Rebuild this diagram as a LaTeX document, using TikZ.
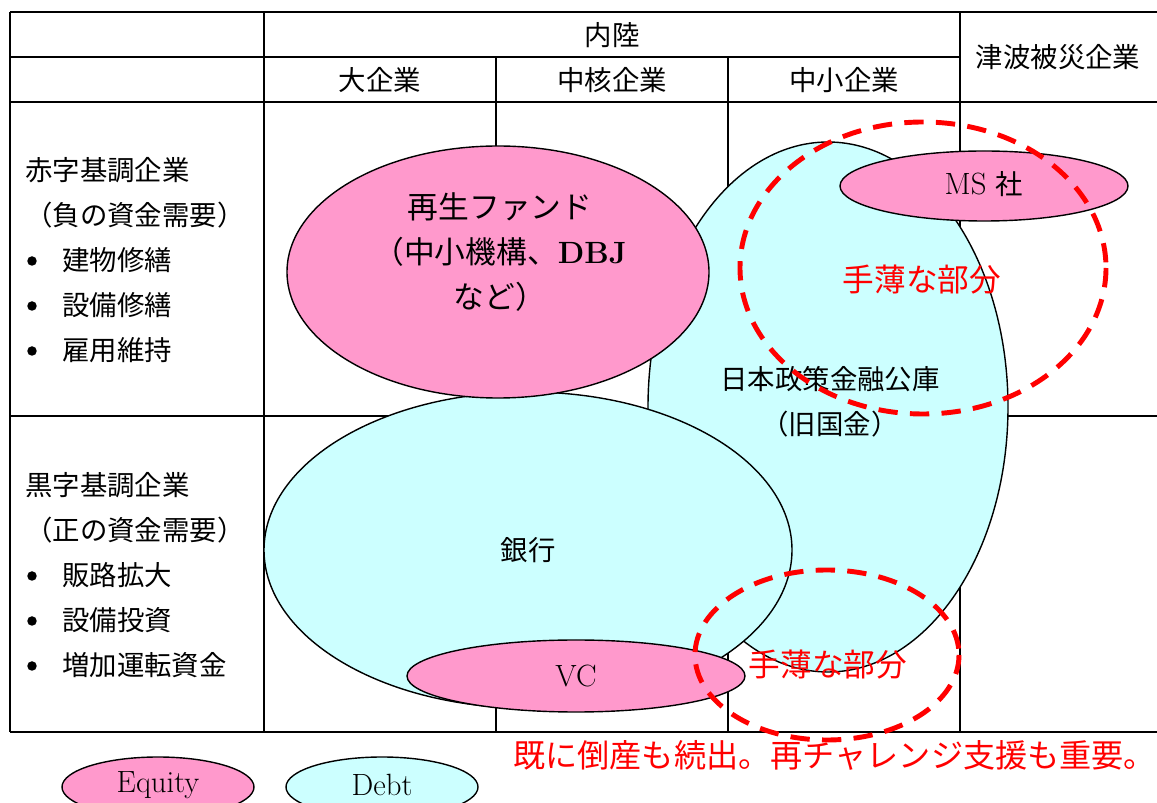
\documentclass[tikz,border=0pt]{standalone}
\usepackage{fontspec}
\newfontfamily\jpfont{Noto Sans CJK JP}
\definecolor{equity}{HTML}{FF99CC}
\definecolor{debt}{HTML}{CCFFFF}
\tikzset{
  tablerule/.style={line width=1.1pt},
  equityfill/.style={draw=black,line width=0.8pt,fill=equity},
  debtfill/.style={draw=black,line width=0.8pt,fill=debt},
  thinzone/.style={red,line width=2.8pt,dash pattern=on 11pt off 7pt},
  cell/.style={inner sep=0pt,font=\jpfont\fontsize{15.6}{25.5}\selectfont},
  latin/.style={inner sep=0pt,font=\fontsize{17.5}{25.5}\selectfont},
  bulletdot/.style={circle,fill=black,inner sep=0pt,minimum size=0.19cm},
  redtext/.style={inner sep=0pt,text=red,font=\jpfont\fontsize{18}{21}\selectfont},
}

\begin{document}
\begin{tikzpicture}[x=0.02cm,y=-0.02cm]
  \clip (0,0) rectangle (1157,803);

  % TABLE
  \draw[tablerule] (10,12) -- (1170,12);
  \draw[tablerule] (10,57) -- (960,57);
  \draw[tablerule] (10,102) -- (1170,102);
  \draw[tablerule] (10,416) -- (1170,416);
  \draw[tablerule] (10,732) -- (1170,732);
  \foreach \x in {10,264,960}
    \draw[tablerule] (\x,12) -- (\x,732);
  \foreach \x in {496,728}
    \draw[tablerule] (\x,57) -- (\x,732);

  % HEADERS
  \node[cell] (inland) at (612,35) {内陸};
  \node[cell] (tsunami) at (1058,57) {津波被災企業};
  \node[cell] (large) at (380,80) {大企業};
  \node[cell] (core) at (612,80) {中核企業};
  \node[cell] (small) at (844,80) {中小企業};

  % ROW LABELS
  \node[cell,anchor=west] (deficit) at (25,170) {赤字基調企業};
  \node[cell,anchor=west] (deficitneed) at (25,215) {（負の資金需要）};
  \node[bulletdot] (b1) at (32,261) {};
  \node[cell,anchor=west] (d1) at (62,260) {建物修繕};
  \node[bulletdot] (b2) at (32,306) {};
  \node[cell,anchor=west] (d2) at (62,305) {設備修繕};
  \node[bulletdot] (b3) at (32,351) {};
  \node[cell,anchor=west] (d3) at (62,350) {雇用維持};

  \node[cell,anchor=west] (surplus) at (25,485) {黒字基調企業};
  \node[cell,anchor=west] (surplusneed) at (25,530) {（正の資金需要）};
  \node[bulletdot] (b4) at (32,576) {};
  \node[cell,anchor=west] (s1) at (62,575) {販路拡大};
  \node[bulletdot] (b5) at (32,621) {};
  \node[cell,anchor=west] (s2) at (62,620) {設備投資};
  \node[bulletdot] (b6) at (32,666) {};
  \node[cell,anchor=west] (s3) at (62,665) {増加運転資金};

  % FUNDERS
  \draw[debtfill] (828,407) ellipse [x radius=180, y radius=265];
  \draw[debtfill] (528,550) ellipse [x radius=264, y radius=158];
  \draw[equityfill] (498,272) ellipse [x radius=211, y radius=126];
  \draw[equityfill] (576,676) ellipse [x radius=169, y radius=36];
  \draw[equityfill] (984,186) ellipse [x radius=144, y radius=35];

  \node[cell,align=center,font=\jpfont\fontsize{17.5}{25.5}\selectfont] (fund) at (500,252)
    {再生ファンド\\（中小機構、{\rmfamily\bfseries\fontsize{17.5}{25.5}\selectfont DBJ}\\など）};
  \node[cell,align=center] (jfc) at (830,402) {日本政策金融公庫\\（旧国金）};
  \node[cell] (bank) at (528,550) {銀行};
  \node[latin] (vc) at (576,676) {VC};
  \node[latin] (ms) at (984,184) {MS {\jpfont\fontsize{15.6}{20}\selectfont 社}};

  % THIN PARTS
  \draw[thinzone] (923,268) ellipse [x radius=183, y radius=146];
  \draw[thinzone] (827,655) ellipse [x radius=132, y radius=85];
  \node[redtext] (gapup) at (922,280) {手薄な部分};
  \node[redtext] (gaplow) at (828,665) {手薄な部分};
  \node[redtext,anchor=west,font=\jpfont\fontsize{18.3}{21}\selectfont] (restart) at (513,755)
    {既に倒産も続出。再チャレンジ支援も重要。};

  % LEGEND
  \draw[equityfill] (158,787) ellipse [x radius=96, y radius=30];
  \draw[debtfill] (382,787) ellipse [x radius=96, y radius=30];
  \node[latin] (eq) at (158,785) {Equity};
  \node[latin] (debt) at (382,785) {Debt};
\end{tikzpicture}
\end{document}
